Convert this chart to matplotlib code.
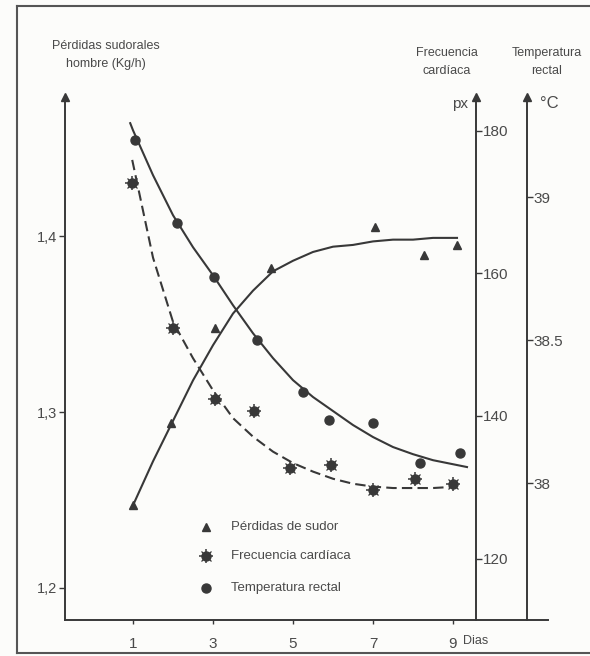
import matplotlib
matplotlib.use("Agg")
import matplotlib.pyplot as plt
from matplotlib.lines import Line2D

plt.rcParams['font.family'] = ['Liberation Sans', 'DejaVu Sans']

# --- datos ---
dias_ticks = [1, 3, 5, 7, 9]

# Perdidas de sudor (Kg/h), eje izquierdo
sudor_dias = [1.0, 1.95, 3.05, 4.45, 7.05, 8.28, 9.1]
sudor_vals = [1.247, 1.294, 1.348, 1.382, 1.405, 1.389, 1.395]
sudor_curva_dias = [1.0, 1.5, 2.0, 2.5, 3.0, 3.5, 4.0, 4.5, 5.0, 5.5, 6.0, 6.5, 7.0, 7.5, 8.0, 8.5, 9.1]
sudor_curva_vals = [1.247, 1.272, 1.295, 1.318, 1.338, 1.356, 1.369, 1.380, 1.386, 1.391,
                    1.394, 1.395, 1.397, 1.398, 1.398, 1.399, 1.399]

# Frecuencia cardiaca (px'), primer eje derecho
fc_dias = [0.98, 2.0, 3.04, 4.03, 4.93, 5.95, 7.0, 8.05, 9.0]
fc_vals = [172.7, 152.3, 142.4, 140.7, 132.7, 133.1, 129.6, 131.2, 130.5]
fc_curva_dias = [0.98, 1.5, 2.0, 2.5, 3.0, 3.5, 4.0, 4.5, 5.0, 5.5, 6.0, 6.5, 7.0, 7.5, 8.0, 8.5, 9.1]
fc_curva_vals = [175.9, 162.2, 153.2, 148.1, 143.6, 139.7, 137.1, 135.0, 133.4, 132.2,
                 131.2, 130.5, 130.1, 129.9, 129.9, 129.9, 130.1]

# Temperatura rectal (°C), segundo eje derecho
temp_dias = [1.05, 2.1, 3.03, 4.1, 5.25, 5.9, 7.0, 8.18, 9.17]
temp_vals = [39.20, 38.91, 38.72, 38.50, 38.32, 38.22, 38.21, 38.07, 38.105]
temp_curva_dias = [0.93, 1.0, 1.5, 2.0, 2.5, 3.0, 3.5, 4.0, 4.5, 5.0, 5.5, 6.0, 6.5, 7.0, 7.5, 8.0, 8.5, 9.35]
temp_curva_vals = [39.259, 39.234, 39.077, 38.937, 38.825, 38.727, 38.622, 38.524, 38.437, 38.360,
                   38.301, 38.252, 38.203, 38.161, 38.126, 38.101, 38.080, 38.056]

tinta = '#383838'
gris = '#4a4a4a'


def estrella(a, xs, ys, **kw):
    # circulo relleno con rayos cortos, como en el original
    a.plot(xs, ys, 'o', color=tinta, ms=6.5, **kw)
    a.plot(xs, ys, '+', color=tinta, ms=10, mew=1.1, **kw)
    a.plot(xs, ys, 'x', color=tinta, ms=7, mew=0.9, **kw)


fig = plt.figure(figsize=(5.9, 6.56), dpi=100, facecolor='#fcfcfa')
ax = fig.add_axes([0.1102, 0.0549, 0.8186, 0.797])
ax.set_facecolor('none')
ax2 = ax.twinx()
ax3 = ax.twinx()

ax.set_xlim(-0.7, 11.375)
ax.set_ylim(1.1818, 1.479)
ax2.set_ylim(111.4, 184.7)
ax3.set_ylim(37.521, 39.35)

# curvas y puntos
ax.plot(sudor_curva_dias, sudor_curva_vals, color=tinta, lw=1.5, solid_joinstyle='round')
ax.plot(sudor_dias, sudor_vals, '^', color=tinta, ms=6)

ax2.plot(fc_curva_dias, fc_curva_vals, color=tinta, lw=1.5, ls=(0, (5, 2.5)))
estrella(ax2, fc_dias, fc_vals)

ax3.plot(temp_curva_dias, temp_curva_vals, color=tinta, lw=1.5, solid_joinstyle='round')
ax3.plot(temp_dias, temp_vals, 'o', color=tinta, ms=6.5)

# ejes
for s in ['top', 'right']:
    ax.spines[s].set_visible(False)
for a in (ax2, ax3):
    for s in ['top', 'left', 'bottom']:
        a.spines[s].set_visible(False)
ax2.spines['right'].set_position(('axes', 0.851))
ax3.spines['right'].set_position(('axes', 0.9565))
for a in (ax, ax2, ax3):
    for s in a.spines.values():
        s.set_color(tinta)
        s.set_linewidth(1.4)

ax.set_xticks(dias_ticks)
ax.set_xticklabels([str(d) for d in dias_ticks])
ax.set_yticks([1.2, 1.3, 1.4])
ax.set_yticklabels(['1,2', '1,3', '1,4'])
ax2.set_yticks([120, 140, 160, 180])
ax3.set_yticks([38, 38.5, 39])
ax3.set_yticklabels(['38', '38.5', '39'])

ax.tick_params(axis='x', direction='out', length=3, width=1, colors=tinta, labelsize=11, pad=9, labelcolor=gris)
ax.tick_params(axis='y', direction='out', length=4, width=1, colors=tinta, labelsize=10.5, pad=2, labelcolor=gris)
for a in (ax2, ax3):
    a.tick_params(axis='y', direction='out', length=4, width=1, colors=tinta, labelsize=11, pad=1, labelcolor=gris)

# flechas en lo alto de los ejes verticales
for xf in (0, 0.851, 0.9565):
    ax.plot([xf], [1], '^', color=tinta, ms=6, transform=ax.transAxes, clip_on=False)

# leyenda dibujada a mano
ley_y = [0.178, 0.122, 0.061]
ley_txt = ['Pérdidas de sudor', 'Frecuencia cardíaca', 'Temperatura rectal']
ax.plot([0.292], [ley_y[0]], '^', color=tinta, ms=6, transform=ax.transAxes)
estrella(ax, [0.292], [ley_y[1]], transform=ax.transAxes)
ax.plot([0.292], [ley_y[2]], 'o', color=tinta, ms=6.5, transform=ax.transAxes)
for yy, t in zip(ley_y, ley_txt):
    ax.text(0.344, yy, t, transform=ax.transAxes, va='center', ha='left', fontsize=9.5, color=gris)

# titulos de los ejes
fig.text(106 / 590, 1 - 55 / 656, 'Pérdidas sudorales\nhombre (Kg/h)', ha='center', va='center',
         fontsize=9, color=gris, linespacing=1.6)
fig.text(447 / 590, 1 - 62 / 656, 'Frecuencia\ncardíaca', ha='center', va='center',
         fontsize=9, color=gris, linespacing=1.6)
fig.text(547 / 590, 1 - 62 / 656, 'Temperatura\nrectal', ha='center', va='center',
         fontsize=9, color=gris, linespacing=1.6)
fig.text(460 / 590, 1 - 104 / 656, 'px', ha='center', va='center', fontsize=11, color=gris)
fig.text(549 / 590, 1 - 104 / 656, '°C', ha='center', va='center', fontsize=12, color=gris)
fig.text(476 / 590, 1 - 641 / 656, 'Dias', ha='center', va='center', fontsize=9, color=gris)

# marco de la pagina escaneada
fig.add_artist(Line2D([17 / 590, 1], [1 - 6 / 656, 1 - 6 / 656], color='#555555', lw=1.5))
fig.add_artist(Line2D([17 / 590, 17 / 590], [1 - 6 / 656, 1 - 653 / 656], color='#555555', lw=1.5))
fig.add_artist(Line2D([17 / 590, 1], [1 - 653 / 656, 1 - 653 / 656], color='#555555', lw=1.5))

fig.savefig('out.png', dpi=100, facecolor=fig.get_facecolor())
